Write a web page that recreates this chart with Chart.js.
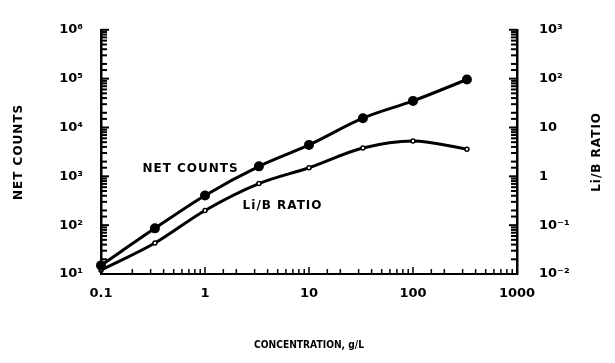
<!DOCTYPE html>
<html>
<head>
<meta charset="utf-8">
<script src="https://cdn.jsdelivr.net/npm/chart.js@4.4.1/dist/chart.umd.min.js"></script>
<style>
  html, body { margin: 0; padding: 0; background: #fff; }
</style>
</head>
<body>
<canvas id="chart" width="615" height="363"></canvas>
<script>
// data
const concentration = [0.1, 0.33, 1, 3.3, 10, 33, 100, 330];
const netCounts = [15, 86, 405, 1600, 4400, 15500, 35000, 96000];
const liBRatio = [0.012, 0.043, 0.2, 0.71, 1.5, 3.8, 5.3, 3.6];

const xTickLabels = ['0.1', '1', '10', '100', '1000'];
const leftTickLabels = ['10¹', '10²', '10³', '10⁴', '10⁵', '10⁶'];
const rightTickLabels = ['10⁻²', '10⁻¹', '1', '10', '10²', '10³'];

const FONT = 'DejaVu Sans';

function decade(v) {
    const e = Math.log10(v);
    return Math.abs(e - Math.round(e)) < 1e-6 ? Math.round(e) : null;
}

// ticks drawn into the plot, plus the hand-lettered labels
const paperMarks = {
    id: 'paperMarks',
    afterDraw(chart) {
        const ctx = chart.ctx;
        const area = chart.chartArea;
        const { x, y, y2 } = chart.scales;
        ctx.save();
        ctx.strokeStyle = '#000';

        ctx.lineWidth = 1.5;
        x.ticks.forEach(t => {
            const px = x.getPixelForValue(t.value);
            const len = decade(t.value) !== null ? 7 : 5;
            ctx.beginPath();
            ctx.moveTo(px, area.bottom);
            ctx.lineTo(px, area.bottom - len);
            ctx.stroke();
        });

        ctx.lineWidth = 2;
        y.ticks.forEach(t => {
            const py = y.getPixelForValue(t.value);
            const len = decade(t.value) !== null ? 8 : 6;
            ctx.beginPath();
            ctx.moveTo(area.left, py);
            ctx.lineTo(area.left + len, py);
            ctx.stroke();
        });
        y2.ticks.forEach(t => {
            const py = y2.getPixelForValue(t.value);
            const len = decade(t.value) !== null ? 8 : 6;
            ctx.beginPath();
            ctx.moveTo(area.right, py);
            ctx.lineTo(area.right - len, py);
            ctx.stroke();
        });

        ctx.fillStyle = '#000';
        ctx.font = 'bold 12px "' + FONT + '"';
        ctx.textBaseline = 'middle';
        ctx.letterSpacing = '1px';

        // curve labels
        ctx.textAlign = 'left';
        ctx.fillText('NET COUNTS', x.getPixelForValue(0.25), y.getPixelForValue(1400));
        ctx.fillText('Li/B RATIO', x.getPixelForValue(2.3), y2.getPixelForValue(0.25));

        // axis titles
        ctx.save();
        ctx.textAlign = 'center';
        ctx.letterSpacing = '0px';
        ctx.font = 'bold 11px "' + FONT + '"';
        ctx.fillText('CONCENTRATION, g/L', (area.left + area.right) / 2, 345, 110);
        ctx.restore();

        ctx.textAlign = 'center';
        ctx.save();
        ctx.translate(19, (area.top + area.bottom) / 2);
        ctx.rotate(-Math.PI / 2);
        ctx.fillText('NET COUNTS', 0, 0);
        ctx.restore();

        ctx.save();
        ctx.translate(597, (area.top + area.bottom) / 2);
        ctx.rotate(-Math.PI / 2);
        ctx.fillText('Li/B RATIO', 0, 0);
        ctx.restore();

        ctx.restore();
    }
};

const tickFont = { family: FONT, size: 13, weight: 'bold' };

const chart = new Chart(document.getElementById('chart'), {
    type: 'line',
    data: {
        labels: concentration,
        datasets: [
            {
                label: 'Net counts',
                data: concentration.map((c, i) => ({ x: c, y: netCounts[i] })),
                yAxisID: 'y',
                borderColor: '#000',
                borderWidth: 3,
                pointRadius: 3.5,
                pointBackgroundColor: '#000',
                pointBorderColor: '#000',
                cubicInterpolationMode: 'monotone',
                clip: false
            },
            {
                label: 'Li/B ratio',
                data: concentration.map((c, i) => ({ x: c, y: liBRatio[i] })),
                yAxisID: 'y2',
                borderColor: '#000',
                borderWidth: 3,
                pointRadius: 2,
                pointBackgroundColor: '#fff',
                pointBorderColor: '#000',
                pointBorderWidth: 1.5,
                cubicInterpolationMode: 'monotone',
                clip: false
            }
        ]
    },
    options: {
        responsive: false,
        animation: false,
        layout: { padding: { top: 28 } },
        plugins: {
            legend: { display: false },
            tooltip: { enabled: false }
        },
        scales: {
            x: {
                type: 'logarithmic',
                min: 0.1,
                max: 1000,
                afterFit: s => { s.height = 89; },
                grid: { display: false, drawTicks: false },
                border: { display: true, color: '#000', width: 2 },
                ticks: {
                    autoSkip: false,
                    maxRotation: 0,
                    padding: 12,
                    color: '#000',
                    font: tickFont,
                    callback: v => {
                        const d = decade(v);
                        return d === null ? '' : xTickLabels[d + 1];
                    }
                }
            },
            y: {
                type: 'logarithmic',
                position: 'left',
                min: 10,
                max: 1e6,
                afterFit: s => { s.width = 101; },
                grid: { display: false, drawTicks: false },
                border: { display: true, color: '#000', width: 2.5 },
                ticks: {
                    autoSkip: false,
                    padding: 18,
                    color: '#000',
                    font: tickFont,
                    callback: v => {
                        const d = decade(v);
                        return d === null ? '' : leftTickLabels[d - 1];
                    }
                }
            },
            y2: {
                type: 'logarithmic',
                position: 'right',
                min: 0.01,
                max: 1000,
                afterFit: s => { s.width = 98; },
                grid: { display: false, drawTicks: false },
                border: { display: true, color: '#000', width: 2.5 },
                ticks: {
                    autoSkip: false,
                    padding: 22,
                    color: '#000',
                    font: tickFont,
                    callback: v => {
                        const d = decade(v);
                        return d === null ? '' : rightTickLabels[d + 2];
                    }
                }
            }
        }
    },
    plugins: [paperMarks]
});
</script>
</body>
</html>
